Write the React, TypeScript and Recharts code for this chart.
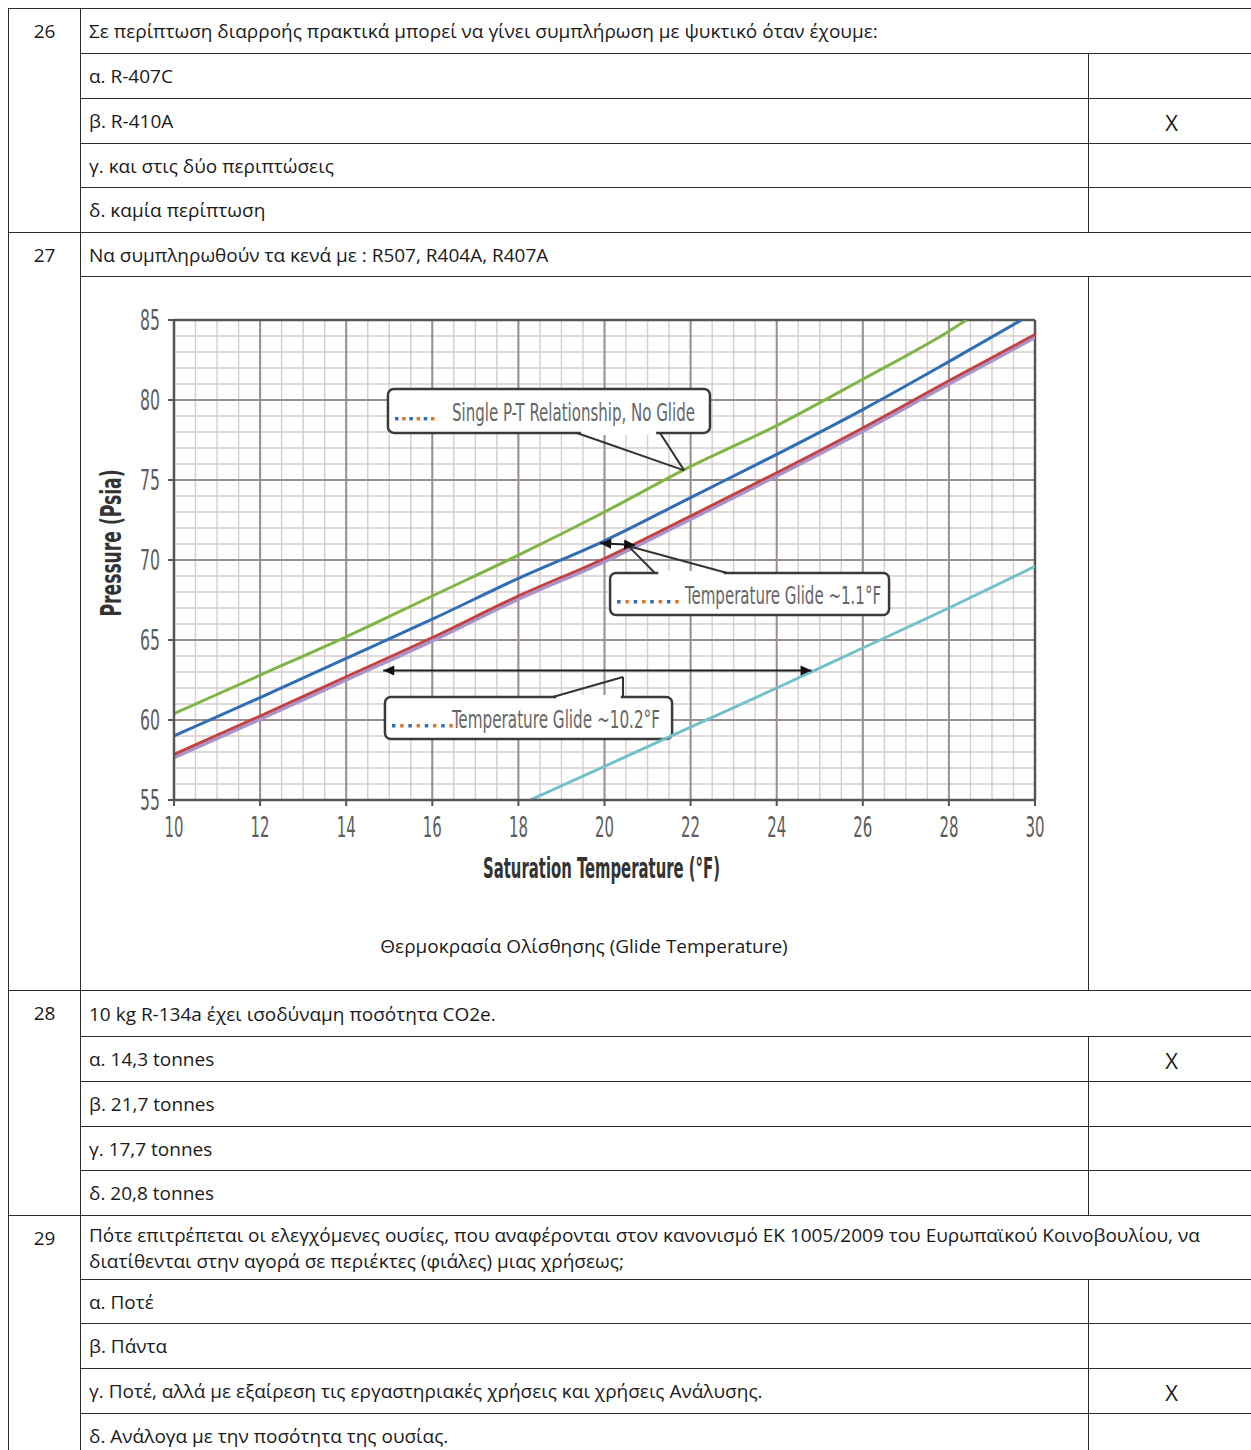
import React from 'react';
import {
  LineChart, Line, XAxis, YAxis, CartesianGrid, ReferenceLine, ReferenceArea, Label,
} from 'recharts';

// saturation temperature (°F) -> pressure (psia)
const greenTemp = [10, 12, 14, 16, 18, 20, 22, 24, 26, 28, 28.41];
const greenPsia = [60.4, 62.8, 65.2, 67.75, 70.3, 73.0, 75.85, 78.4, 81.3, 84.3, 85];
const blueTemp = [10, 12, 14, 16, 18, 20, 22, 24, 26, 28, 29.69];
const bluePsia = [59.0, 61.4, 63.85, 66.3, 68.85, 71.2, 73.9, 76.6, 79.4, 82.4, 85];
const redTemp = [10, 12, 14, 16, 18, 20, 22, 24, 26, 28, 30];
const redPsia = [57.85, 60.25, 62.7, 65.15, 67.75, 70.1, 72.75, 75.45, 78.25, 81.2, 84.1];
const purplePsia = [57.65, 60.05, 62.5, 64.95, 67.55, 69.9, 72.55, 75.25, 78.05, 81.0, 83.9];
const cyanTemp = [18.27, 20, 22, 24, 26, 28, 30];
const cyanPsia = [55.0, 57.1, 59.55, 62.0, 64.5, 67.0, 69.6];

const xTicks = [10, 12, 14, 16, 18, 20, 22, 24, 26, 28, 30];
const yTicks = [55, 60, 65, 70, 75, 80, 85];
const xMinor = Array.from({ length: 41 }, (_, i) => 10 + i * 0.5);
const yMinor = Array.from({ length: 31 }, (_, i) => 55 + i);

// table text
const q26 = 'Σε περίπτωση διαρροής πρακτικά μπορεί να γίνει συμπλήρωση με ψυκτικό όταν έχουμε:';
const q26Answers = ['α. R-407C', 'β. R-410A', 'γ. και στις δύο περιπτώσεις', 'δ. καμία περίπτωση'];
const q26Marks = ['', 'X', '', ''];
const q27 = 'Να συμπληρωθούν τα κενά με : R507, R404A, R407A';
const q27Caption = 'Θερμοκρασία Ολίσθησης (Glide Temperature)';
const q28 = '10 kg R-134a έχει ισοδύναμη ποσότητα CO2e.';
const q28Answers = ['α. 14,3 tonnes', 'β. 21,7 tonnes', 'γ. 17,7 tonnes', 'δ. 20,8 tonnes'];
const q28Marks = ['X', '', '', ''];
const q29Lines = [
  'Πότε επιτρέπεται οι ελεγχόμενες ουσίες, που αναφέρονται στον κανονισμό ΕΚ 1005/2009 του Ευρωπαϊκού Κοινοβουλίου, να',
  'διατίθενται στην αγορά σε περιέκτες (φιάλες) μιας χρήσεως;',
];
const q29Answers = ['α. Ποτέ', 'β. Πάντα', 'γ. Ποτέ, αλλά με εξαίρεση τις εργαστηριακές χρήσεις και χρήσεις Ανάλυσης.', 'δ. Ανάλογα με την ποσότητα της ουσίας.'];
const q29Marks = ['', '', 'X', ''];

const toData = (t: number[], p: number[]) => t.map((v, i) => ({ t: v, p: p[i] }));

const narrow = '"Liberation Sans Narrow", "DejaVu Sans Condensed", sans-serif';
const body = '"Open Sans", "Noto Sans", sans-serif';
const border = '1px solid #2a2a2a';

const XTick = (props: any) => {
  const { x, y, payload } = props;
  return (
    <text x={x} y={y + 29} textAnchor="middle" fontFamily={narrow} fontSize={29} fill="#5c5c5c"
      textLength={19} lengthAdjust="spacingAndGlyphs">{payload.value}</text>
  );
};

const YTick = (props: any) => {
  const { x, y, payload } = props;
  return (
    <text x={x} y={y + 10} textAnchor="end" fontFamily={narrow} fontSize={28} fill="#5c5c5c"
      textLength={20} lengthAdjust="spacingAndGlyphs">{payload.value}</text>
  );
};

const XTitle = (props: any) => {
  const vb = props.viewBox || { x: 84, y: 505, width: 861, height: 95 };
  return (
    <text x={vb.x + vb.width / 2 - 3} y={vb.y + 78} textAnchor="middle" fontFamily={narrow}
      fontWeight="bold" fontSize={28} fill="#333" textLength={237} lengthAdjust="spacingAndGlyphs">
      Saturation Temperature (°F)
    </text>
  );
};

const YTitle = (props: any) => {
  const vb = props.viewBox || { x: 0, y: 25, width: 84, height: 480 };
  const cx = vb.x + 31;
  const cy = vb.y + vb.height / 2 - 17;
  return (
    <text x={cx} y={cy} transform={`rotate(-90 ${cx} ${cy})`} textAnchor="middle" fontFamily={narrow}
      fontWeight="bold" fontSize={28} fill="#333" textLength={147} lengthAdjust="spacingAndGlyphs">
      Pressure (Psia)
    </text>
  );
};

function Callout(props: any) {
  const { x, y, width, height, dots, dotGap, textX, textLen, text } = props;
  const base = y + height / 2 + 10;
  return (
    <g>
      <rect x={x} y={y} width={width} height={height} rx={6} ry={6} fill="#fff" stroke="#3a3a3a" strokeWidth={2.5} />
      {Array.from({ length: dots }).map((_, i) => (
        <rect key={i} x={x + 7 + i * dotGap} y={base - 4} width={3.5} height={3.5}
          fill={i % 2 ? '#d9782c' : '#2f6fb6'} />
      ))}
      <text x={x + textX} y={base} fontFamily={narrow} fontSize={24} fill="#666"
        textLength={textLen} lengthAdjust="spacingAndGlyphs">{text}</text>
    </g>
  );
}

function DoubleArrow(props: any) {
  const { x1, y1, x2, y2 } = props;
  const a = Math.atan2(y2 - y1, x2 - x1);
  const head = (px: number, py: number, ang: number) => {
    const l = 11, w = 5;
    const bx = px - l * Math.cos(ang), by = py - l * Math.sin(ang);
    const nx = -Math.sin(ang) * w, ny = Math.cos(ang) * w;
    return `${px},${py} ${bx + nx},${by + ny} ${bx - nx},${by - ny}`;
  };
  return (
    <g>
      <line x1={x1} y1={y1} x2={x2} y2={y2} stroke="#1e1e1e" strokeWidth={2} />
      <polygon points={head(x2, y2, a)} fill="#111" />
      <polygon points={head(x1, y1, a + Math.PI)} fill="#111" />
    </g>
  );
}

function PTChart() {
  return (
    <LineChart width={990} height={600} margin={{ top: 25, right: 45, bottom: 0, left: 0 }}>
      <CartesianGrid verticalValues={xMinor} horizontalValues={yMinor} stroke="#d6cdcd" strokeWidth={1.4} />
      <CartesianGrid verticalValues={xTicks} horizontalValues={yTicks} stroke="#9a8e8e" strokeWidth={2} />
      <XAxis type="number" dataKey="t" domain={[10, 30]} ticks={xTicks} interval={0} allowDataOverflow height={95}
        tick={<XTick />} tickSize={6} tickMargin={2} axisLine={{ stroke: '#555', strokeWidth: 2.5 }}
        tickLine={{ stroke: '#555', strokeWidth: 2 }}>
        <Label content={<XTitle />} />
      </XAxis>
      <YAxis type="number" domain={[55, 85]} ticks={yTicks} interval={0} allowDataOverflow width={84}
        tick={<YTick />} tickSize={6} tickMargin={8} axisLine={{ stroke: '#555', strokeWidth: 2.5 }}
        tickLine={{ stroke: '#555', strokeWidth: 2 }}>
        <Label content={<YTitle />} />
      </YAxis>
      <ReferenceLine y={85} stroke="#555" strokeWidth={2.5} />
      <ReferenceLine x={30} stroke="#555" strokeWidth={2.5} />
      <Line data={toData(redTemp, purplePsia)} dataKey="p" type="monotone" stroke="#a993cc" strokeWidth={3.5} dot={false} isAnimationActive={false} />
      <Line data={toData(redTemp, redPsia)} dataKey="p" type="monotone" stroke="#c2413f" strokeWidth={2.8} dot={false} isAnimationActive={false} />
      <Line data={toData(blueTemp, bluePsia)} dataKey="p" type="monotone" stroke="#2f6db4" strokeWidth={3} dot={false} isAnimationActive={false} />
      <Line data={toData(greenTemp, greenPsia)} dataKey="p" type="monotone" stroke="#7fb545" strokeWidth={3} dot={false} isAnimationActive={false} />
      <Line data={toData(cyanTemp, cyanPsia)} dataKey="p" type="monotone" stroke="#72c0ca" strokeWidth={3} dot={false} isAnimationActive={false} />

      <ReferenceArea x1={14.97} x2={22.45} y1={77.94} y2={80.69} ifOverflow="visible"
        shape={(p: any) => <Callout {...p} dots={6} dotGap={7.2} textX={64} textLen={243} text="Single P-T Relationship, No Glide" />} />
      <ReferenceArea x1={20.13} x2={26.61} y1={66.56} y2={69.19} ifOverflow="visible"
        shape={(p: any) => <Callout {...p} dots={8} dotGap={8.3} textX={75} textLen={196} text="Temperature Glide ~1.1°F" />} />
      <ReferenceArea x1={14.9} x2={21.57} y1={58.81} y2={61.44} ifOverflow="visible"
        shape={(p: any) => <Callout {...p} dots={8} dotGap={8.2} textX={67} textLen={208} text="Temperature Glide ~10.2°F" />} />

      <ReferenceLine segment={[{ x: 19.45, y: 77.94 }, { x: 21.2, y: 77.94 }]} stroke="#fff" strokeWidth={4} />
      <ReferenceLine segment={[{ x: 19.36, y: 77.94 }, { x: 21.85, y: 75.6 }]} stroke="#333" strokeWidth={2} />
      <ReferenceLine segment={[{ x: 21.29, y: 77.94 }, { x: 21.85, y: 75.6 }]} stroke="#333" strokeWidth={2} />

      <ReferenceLine segment={[{ x: 21.25, y: 69.19 }, { x: 22.77, y: 69.19 }]} stroke="#fff" strokeWidth={4} />
      <ReferenceLine segment={[{ x: 21.17, y: 69.19 }, { x: 20.55, y: 70.88 }]} stroke="#333" strokeWidth={2} />
      <ReferenceLine segment={[{ x: 22.85, y: 69.19 }, { x: 20.55, y: 70.88 }]} stroke="#333" strokeWidth={2} />

      <ReferenceLine segment={[{ x: 18.88, y: 61.44 }, { x: 20.38, y: 61.44 }]} stroke="#fff" strokeWidth={4} />
      <ReferenceLine segment={[{ x: 20.43, y: 61.44 }, { x: 20.43, y: 62.69 }]} stroke="#333" strokeWidth={2} />
      <ReferenceLine segment={[{ x: 20.43, y: 62.69 }, { x: 18.8, y: 61.44 }]} stroke="#333" strokeWidth={2} />

      <ReferenceLine segment={[{ x: 19.9, y: 71.04 }, { x: 20.71, y: 70.94 }]} shape={(p: any) => <DoubleArrow {...p} />} />
      <ReferenceLine segment={[{ x: 14.86, y: 63.1 }, { x: 24.81, y: 63.1 }]} shape={(p: any) => <DoubleArrow {...p} />} />
    </LineChart>
  );
}

const td: React.CSSProperties = { border, padding: '0 8px', verticalAlign: 'middle', whiteSpace: 'nowrap', overflow: 'hidden' };
const numTd: React.CSSProperties = { border, textAlign: 'center', verticalAlign: 'top', paddingTop: 9 };
const markTd: React.CSSProperties = { border, textAlign: 'center', verticalAlign: 'middle', fontSize: 22, paddingTop: 3 };

function AnswerRows({ answers, marks, heights }: { answers: string[]; marks: string[]; heights: number[] }) {
  return (
    <>
      {answers.map((a, i) => (
        <tr key={a} style={{ height: heights[i] }}>
          <td style={td}>{a}</td>
          <td style={markTd}>{marks[i]}</td>
        </tr>
      ))}
    </>
  );
}

export default function App() {
  return (
    <div style={{ position: 'absolute', left: 8, top: 8, width: 1243, height: 1442, overflow: 'hidden', fontFamily: body, fontSize: 19, color: '#1a1a1a', background: '#fff' }}>
      <table style={{ borderCollapse: 'collapse', tableLayout: 'fixed', width: 1246, lineHeight: '26px' }}>
        <colgroup>
          <col style={{ width: 72 }} />
          <col style={{ width: 1008 }} />
          <col style={{ width: 166 }} />
        </colgroup>
        <tbody>
          <tr style={{ height: 45 }}>
            <td rowSpan={5} style={numTd}>26</td>
            <td colSpan={2} style={td}>{q26}</td>
          </tr>
          <AnswerRows answers={q26Answers} marks={q26Marks} heights={[45, 45, 44, 45]} />
          <tr style={{ height: 44 }}>
            <td rowSpan={2} style={numTd}>27</td>
            <td colSpan={2} style={td}>{q27}</td>
          </tr>
          <tr style={{ height: 714 }}>
            <td style={td}></td>
            <td style={markTd}></td>
          </tr>
          <tr style={{ height: 46 }}>
            <td rowSpan={5} style={numTd}>28</td>
            <td colSpan={2} style={td}>{q28}</td>
          </tr>
          <AnswerRows answers={q28Answers} marks={q28Marks} heights={[45, 45, 44, 45]} />
          <tr style={{ height: 64 }}>
            <td rowSpan={5} style={numTd}>29</td>
            <td colSpan={2} style={td}>{q29Lines[0]}<br />{q29Lines[1]}</td>
          </tr>
          <AnswerRows answers={q29Answers} marks={q29Marks} heights={[44, 45, 45, 44]} />
        </tbody>
      </table>
      <div style={{ position: 'absolute', left: 82, top: 287 }}>
        <PTChart />
      </div>
      <div style={{ position: 'absolute', left: 72, top: 926, width: 1008, textAlign: 'center', lineHeight: '24px' }}>
        {q27Caption}
      </div>
    </div>
  );
}
